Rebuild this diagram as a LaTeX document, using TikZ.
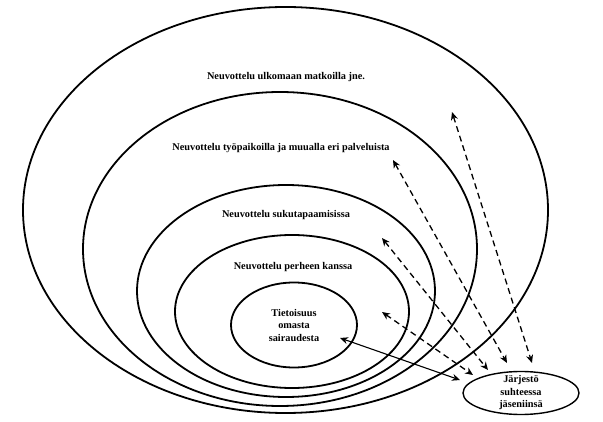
\documentclass[tikz,border=0pt]{standalone}
\usepackage{fontspec}
\setmainfont{Liberation Serif}
\usetikzlibrary{positioning,shapes.geometric,arrows.meta}

\begin{document}
\begin{tikzpicture}[x=1pt,y=-1pt,
    ring/.style={line width=1.8pt},
    lbl/.style={font=\bfseries\fontsize{10.3}{12.5}\selectfont,align=center},
    link/.style={<->,line width=1.1pt},
    dlink/.style={<->,line width=1.3pt,dash pattern=on 6pt off 4pt},
    >={Stealth[length=8pt,width=7pt]}]
  \useasboundingbox (0,0) rectangle (603,422);
  % nested rings
  \draw[ring] (285.5,210) ellipse [x radius=262.5,y radius=203];
  \draw[ring] (280,249) ellipse [x radius=197,y radius=157];
  \draw[ring] (286,291) ellipse [x radius=149,y radius=106];
  \draw[ring] (292,311.5) ellipse [x radius=117,y radius=76.5];
  \node[ellipse,draw,ring,minimum width=126pt,minimum height=85pt,lbl] (aware) at (294,325) {Tietoisuus\\omasta\\sairaudesta};
  \node[lbl] (abroad) at (286,77) {Neuvottelu ulkomaan matkoilla jne.};
  \node[lbl] (work) at (281,148) {Neuvottelu työpaikoilla ja muualla eri palveluista};
  \node[lbl] (kin) at (286,215) {Neuvottelu sukutapaamisissa};
  \node[lbl] (family) at (293,267) {Neuvottelu perheen kanssa};
  \node[ellipse,draw,line width=1.4pt,minimum width=116pt,minimum height=43pt,inner xsep=0pt,inner ysep=-5pt,lbl] (org) at (521,393) {Järjestö\\suhteessa\\jäseniinsä};
  % arrow ends
  \coordinate (awareEnd) at (340,338);
  \coordinate (orgEnd) at (460,380);
  \coordinate (familyTip) at (382,312);
  \coordinate (kinTip) at (382,238);
  \coordinate (workTip) at (393,160);
  \coordinate (abroadTip) at (452,112);
  \coordinate (familyFoot) at (473,375);
  \coordinate (kinFoot) at (488,370);
  \coordinate (workFoot) at (507,363);
  \coordinate (abroadFoot) at (532,363);
  \draw[link] (awareEnd) -- (orgEnd);
  \draw[dlink] (familyTip) -- (familyFoot);
  \draw[dlink] (kinTip) -- (kinFoot);
  \draw[dlink] (workTip) -- (workFoot);
  \draw[dlink] (abroadTip) -- (abroadFoot);
\end{tikzpicture}
\end{document}
